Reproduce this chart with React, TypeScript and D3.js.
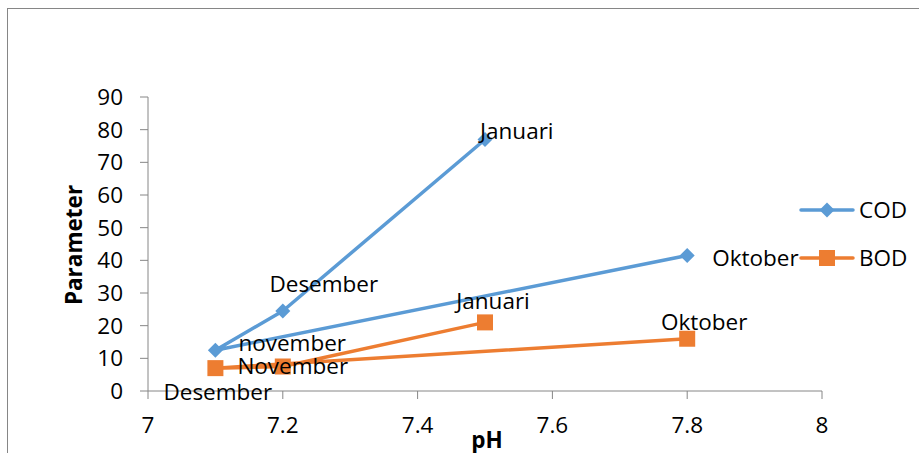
import React from "react";
import * as d3 from "d3";

const months = ["Oktober", "november", "Desember", "Januari"];
const monthsBOD = ["Oktober", "November", "Desember", "Januari"];
const codPH = [7.8, 7.1, 7.2, 7.5];
const codVal = [41.5, 12.5, 24.5, 77];
const bodPH = [7.8, 7.1, 7.2, 7.5];
const bodVal = [16, 7, 7.5, 21];
const xTicks = [7, 7.2, 7.4, 7.6, 7.8, 8];
const yTicks = [0, 10, 20, 30, 40, 50, 60, 70, 80, 90];
const seriesNames = ["COD", "BOD"];

// label offsets (style): [dx, dy, anchor]
const codLabelPos: [number, number, string][] = [
  [25, 3, "start"],
  [23, -7, "start"],
  [41, -27, "middle"],
  [-5, -8, "start"],
];
const bodLabelPos: [number, number, string][] = [
  [17, -17, "middle"],
  [22, -2, "start"],
  [-65, 26, "middle"],
  [8, -21, "middle"],
];

const BLUE = "#5B9BD5";
const ORANGE = "#ED7D31";
const AXIS = "#868686";
const FONT = "'Open Sans', sans-serif";
const FS = 22.5;

export default function App() {
  const x = d3.scaleLinear().domain([7, 8]).range([148, 822]);
  const y = d3.scaleLinear().domain([0, 90]).range([391, 97]);
  const line = d3
    .line<[number, number]>()
    .x((d) => x(d[0]))
    .y((d) => y(d[1]));
  const cod: [number, number][] = codPH.map((p, i) => [p, codVal[i]]);
  const bod: [number, number][] = bodPH.map((p, i) => [p, bodVal[i]]);
  const diamond = (cx: number, cy: number, r: number) =>
    `M${cx},${cy - r}L${cx + r},${cy}L${cx},${cy + r}L${cx - r},${cy}Z`;

  return (
    <div style={{ position: "absolute", left: 0, top: 0 }}>
      <svg width={919} height={453} style={{ display: "block", background: "#fff" }}>
        <rect x={7.5} y={8.5} width={1000} height={1000} fill="#fff" stroke={AXIS} strokeWidth={1} />
        {/* y axis */}
        <line x1={148} x2={148} y1={y(90)} y2={y(0)} stroke={AXIS} strokeWidth={1} />
        {yTicks.map((t) => (
          <g key={t}>
            <line x1={140} x2={148} y1={y(t)} y2={y(t)} stroke={AXIS} />
            <text x={123} y={y(t)} dy="0.35em" textAnchor="end" fontFamily={FONT} fontSize={FS}>
              {t}
            </text>
          </g>
        ))}
        {/* x axis */}
        <line x1={x(7)} x2={x(8)} y1={y(0)} y2={y(0)} stroke={AXIS} />
        {xTicks.map((t) => (
          <g key={t}>
            <line x1={x(t)} x2={x(t)} y1={y(0)} y2={y(0) + 8} stroke={AXIS} />
            <text x={x(t)} y={425} dy="0.35em" textAnchor="middle" fontFamily={FONT} fontSize={FS}>
              {d3.format("")(t)}
            </text>
          </g>
        ))}
        <text
          transform={`translate(82,245) rotate(-90)`}
          textAnchor="middle"
          fontFamily={FONT}
          fontSize={FS}
          fontWeight="bold"
        >
          Parameter
        </text>
        <text x={487} y={440} dy="0.35em" textAnchor="middle" fontFamily={FONT} fontSize={FS} fontWeight="bold">
          pH
        </text>
        {/* series */}
        <path d={line(cod) || ""} fill="none" stroke={BLUE} strokeWidth={3.5} strokeLinejoin="round" />
        <path d={line(bod) || ""} fill="none" stroke={ORANGE} strokeWidth={3.5} strokeLinejoin="round" />
        {cod.map((d, i) => (
          <path key={"c" + i} d={diamond(x(d[0]), y(d[1]), 7.5)} fill={BLUE} />
        ))}
        {bod.map((d, i) => (
          <rect key={"b" + i} x={x(d[0]) - 8} y={y(d[1]) - 8} width={16} height={16} fill={ORANGE} />
        ))}
        {cod.map((d, i) => (
          <text
            key={"cl" + i}
            x={x(d[0]) + codLabelPos[i][0]}
            y={y(d[1]) + codLabelPos[i][1]}
            dy="0.35em"
            textAnchor={codLabelPos[i][2]}
            fontFamily={FONT}
            fontSize={FS}
          >
            {months[i]}
          </text>
        ))}
        {bod.map((d, i) => (
          <text
            key={"bl" + i}
            x={x(d[0]) + bodLabelPos[i][0]}
            y={y(d[1]) + bodLabelPos[i][1]}
            dy="0.35em"
            textAnchor={bodLabelPos[i][2]}
            fontFamily={FONT}
            fontSize={FS}
          >
            {monthsBOD[i]}
          </text>
        ))}
        {/* legend */}
        {seriesNames.map((s, i) => {
          const ly = 210 + i * 48;
          const c = i === 0 ? BLUE : ORANGE;
          return (
            <g key={s}>
              <line x1={801} x2={853} y1={ly} y2={ly} stroke={c} strokeWidth={3.5} strokeLinecap="round" />
              {i === 0 ? (
                <path d={diamond(827, ly, 7.5)} fill={c} />
              ) : (
                <rect x={819} y={ly - 8} width={16} height={16} fill={c} />
              )}
              <text x={859} y={ly} dy="0.35em" fontFamily={FONT} fontSize={FS}>
                {s}
              </text>
            </g>
          );
        })}
      </svg>
    </div>
  );
}
